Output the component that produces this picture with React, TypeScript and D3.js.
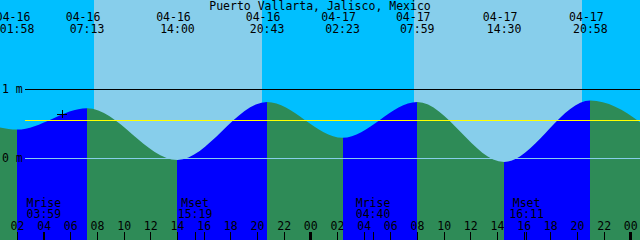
import React from "react";
import * as d3 from "d3";

const W = 640;
const H = 240;
const title = "Puerto Vallarta, Jalisco, Mexico";

// Tide extremes (first and last lie outside the visible window)
const tideTimes = [
  "2025-04-15 20:00",
  "2025-04-16 01:58",
  "2025-04-16 07:13",
  "2025-04-16 14:00",
  "2025-04-16 20:43",
  "2025-04-17 02:23",
  "2025-04-17 07:59",
  "2025-04-17 14:30",
  "2025-04-17 20:58",
  "2025-04-18 02:50",
];
const tideHeights = [0.88, 0.42, 0.73, -0.02, 0.82, 0.3, 0.82, -0.05, 0.84, 0.18];
const labelledTides = [1, 2, 3, 4, 5, 6, 7, 8];

const sunrises = ["2025-04-16 07:46", "2025-04-17 07:45"];
const sunsets = ["2025-04-16 20:20", "2025-04-17 20:21"];

const moonNames = ["Mrise", "Mset", "Mrise", "Mset"];
const moonTimes = ["2025-04-16 03:59", "2025-04-16 15:19", "2025-04-17 04:40", "2025-04-17 16:11"];

const nowTime = "2025-04-16 05:22";
const nowHeight = 0.64;

const levelValues = [1, 0];
const levelLabels = ["1 m", "0 m"];
const meanLevel = 0.55;

const domainStart = "2025-04-16 00:00";
const domainEnd = "2025-04-18 00:00";

const parse = d3.utcParse("%Y-%m-%d %H:%M");
const fmtDate = d3.utcFormat("%m-%d");
const fmtTime = d3.utcFormat("%H:%M");
const fmtHour = d3.utcFormat("%H");

const FONT = "DejaVu Sans Mono";
const FS = 11.5;

export default function App() {
  const x = d3
    .scaleUtc()
    .domain([parse(domainStart)!, parse(domainEnd)!])
    .range([-9.2, 630.8]);
  const y = d3.scaleLinear().domain([0, 1]).range([158.5, 89.5]);

  const tides = tideTimes.map((t, i) => ({ t: parse(t)!, h: tideHeights[i] }));

  const area = d3
    .area<{ t: Date; h: number }>()
    .x((d) => x(d.t))
    .y0(H)
    .y1((d) => y(d.h))
    .curve(d3.curveMonotoneX);
  const areaPath = area(tides) || "";

  const segments = tides.slice(1).map((d, i) => ({
    x0: x(tides[i].t),
    x1: x(d.t),
    rising: d.h > tides[i].h,
  }));

  const hourTicks = x
    .ticks(d3.utcHour.every(2)!)
    .filter((d) => x(d) >= 0 && x(d) <= W + 2);

  const nx = x(parse(nowTime)!);
  const ny = y(nowHeight);

  return (
    <svg
      width={W}
      height={H}
      style={{ position: "fixed", left: 0, top: 0, display: "block" }}
      fontFamily={FONT}
      fontSize={FS}
    >
      <defs>
        <clipPath id="tideClip">
          <path d={areaPath} />
        </clipPath>
      </defs>
      {/* sky */}
      <rect x={0} y={0} width={W} height={H} fill="#00BFFF" />
      {sunrises.map((s, i) => {
        const a = x(parse(s)!);
        const b = x(parse(sunsets[i])!);
        return <rect key={"day" + i} x={a} y={0} width={b - a} height={H} fill="#87CEEB" shapeRendering="crispEdges" />;
      })}
      {/* tide fill */}
      <g clipPath="url(#tideClip)">
        {segments.map((s, i) => (
          <rect
            key={"seg" + i}
            x={s.x0}
            y={0}
            width={s.x1 - s.x0}
            height={H}
            fill={s.rising ? "#0000FF" : "#2E8B57"}
            shapeRendering="crispEdges"
          />
        ))}
      </g>
      {/* level lines */}
      {levelValues.map((v, i) => (
        <g key={"lvl" + i}>
          <line
            x1={25}
            x2={W}
            y1={y(v)}
            y2={y(v)}
            stroke={v === 0 ? "#87CEEB" : "#000000"}
            strokeWidth={1}
            shapeRendering="crispEdges"
          />
          <text x={2} y={y(v) + 3.5} fill="#000">
            {levelLabels[i]}
          </text>
        </g>
      ))}
      <line x1={25} x2={W} y1={y(meanLevel)} y2={y(meanLevel)} stroke="#FFFF00" strokeWidth={1} shapeRendering="crispEdges" />
      {/* now marker */}
      <g stroke="#000" strokeWidth={1} shapeRendering="crispEdges">
        <line x1={nx - 5} x2={nx + 5} y1={ny} y2={ny} />
        <line x1={nx} x2={nx} y1={ny - 4} y2={ny + 4} />
      </g>
      {/* title */}
      <text x={W / 2} y={9.5} textAnchor="middle" fill="#000">
        {title}
      </text>
      {/* tide event labels */}
      {labelledTides.map((i) => {
        const tx = x(tides[i].t);
        return (
          <g key={"tl" + i} fill="#000" textAnchor="middle">
            <text x={tx - 4} y={21}>
              {fmtDate(tides[i].t)}
            </text>
            <text x={tx} y={33}>
              {fmtTime(tides[i].t)}
            </text>
          </g>
        );
      })}
      {/* moon events */}
      {moonTimes.map((m, i) => {
        const t = parse(m)!;
        const mx = x(t);
        return (
          <g key={"moon" + i} fill="#000" textAnchor="middle">
            <text x={mx} y={206.5}>
              {moonNames[i]}
            </text>
            <text x={mx} y={218}>
              {fmtTime(t)}
            </text>
            <line x1={mx} x2={mx} y1={232} y2={H} stroke="#000" shapeRendering="crispEdges" />
          </g>
        );
      })}
      {/* hour axis */}
      {hourTicks.map((d, i) => {
        const hx = x(d);
        const midnight = d.getUTCHours() === 0;
        return (
          <g key={"h" + i}>
            <text x={hx} y={230} textAnchor="middle" fill="#000">
              {fmtHour(d)}
            </text>
            {midnight ? (
              <rect x={hx - 1.5} y={232} width={3} height={H - 232} fill="#000" shapeRendering="crispEdges" />
            ) : (
              <line x1={hx} x2={hx} y1={232} y2={H} stroke="#000" shapeRendering="crispEdges" />
            )}
          </g>
        );
      })}
    </svg>
  );
}
